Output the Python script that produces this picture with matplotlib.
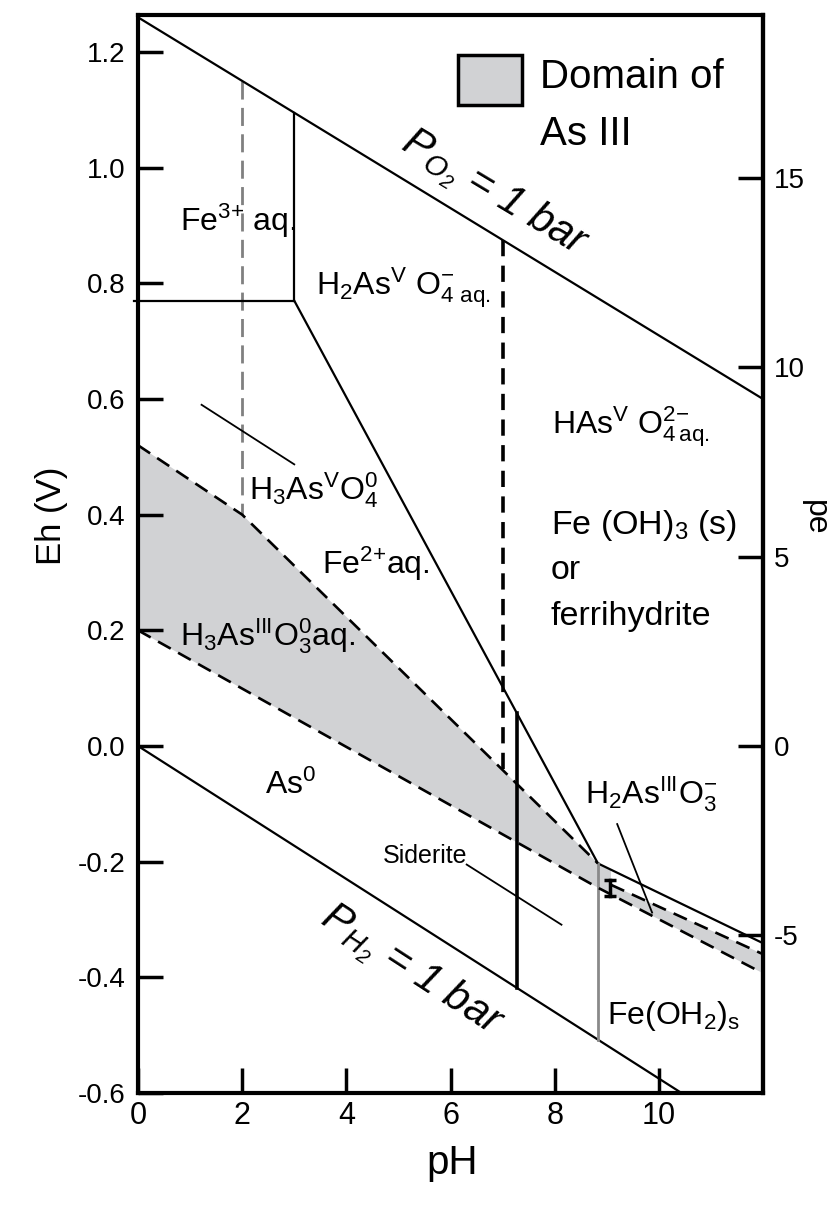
import numpy as np
import matplotlib.pyplot as plt
from matplotlib.patches import Rectangle

plt.rcParams['font.family'] = ['Liberation Sans', 'DejaVu Sans']
plt.rcParams['mathtext.default'] = 'regular'
plt.rcParams['axes.unicode_minus'] = False

# water stability limits (pH, Eh in V)
o2_ph = [0, 12]
o2_eh = [1.26, 0.60]
h2_ph = [0, 12]
h2_eh = [0.0, -0.69]

# iron boundaries
fe3_eh = 0.77            # Fe3+ / Fe2+
fe3_ph = 3.0             # Fe3+ / Fe(OH)3
fe_ph = [3.0, 8.83, 12]  # Fe2+ / Fe(OH)3, then Fe(OH)3 / Fe(OH)2
fe_eh = [0.77, -0.203, -0.341]
siderite_ph = 7.27
feoh2_ph = 8.83

# arsenic boundaries
as_upper_ph = [0, 2, 8.83]
as_upper_eh = [0.52, 0.40, -0.203]
as_right_ph = [9.08, 12]
as_right_eh = [-0.24, -0.36]
as_lower_ph = [0, 8.83, 12]
as_lower_eh = [0.20, -0.245, -0.393]
as_v_ph = 2.0
as_v2_ph = 7.0

# leader lines
leader_ph = [[1.22, 3.0], [6.31, 8.13], [9.2, 9.87]]
leader_eh = [[0.59, 0.487], [-0.205, -0.309], [-0.135, -0.288]]

labels = [
    (r"Fe$^{3{+}}$ aq.", 0.80, 0.89, 23),
    (r"H$_2$As$^V$ O$_{4\ aq.}^{-}$", 3.42, 0.78, 23),
    (r"HAs$^V$ O$_{4\,aq.}^{2{-}}$", 7.94, 0.541, 23),
    (r"H$_3$As$^V$O$_4^0$", 2.14, 0.426, 23),
    (r"Fe$^{2{+}}$aq.", 3.54, 0.297, 23),
    (r"H$_3$As$^{III}$O$_3^0$aq.", 0.80, 0.174, 23),
    (r"As$^0$", 2.43, -0.083, 23),
    (r"H$_2$As$^{III}$O$_3^{-}$", 8.58, -0.10, 23),
    (r"Fe(OH$_2)_s$", 9.0, -0.481, 23),
]

def line_at(ph, xs, ys):
    return float(np.interp(ph, xs, ys))

fig = plt.figure(figsize=(8.35, 12.1), dpi=100)
ax = fig.add_axes([0.1653, 0.0967, 0.7485, 0.8909])
ax.set_xlim(0, 12)
ax.set_ylim(-0.6, 1.264)

# As III domain
fe_at = line_at(as_right_ph[0], fe_ph, fe_eh)
poly_x = as_upper_ph + [as_right_ph[0]] + as_right_ph + as_lower_ph[::-1]
poly_y = as_upper_eh + [fe_at] + as_right_eh + as_lower_eh[::-1]
ax.fill(poly_x, poly_y, color='#d1d2d4', lw=0, zorder=1)

k = dict(color='black', lw=1.6, zorder=3)
ax.plot(o2_ph, o2_eh, **k)
ax.plot(h2_ph, h2_eh, **k)
ax.plot([-0.08, fe3_ph], [fe3_eh, fe3_eh], clip_on=False, **k)
ax.plot([fe3_ph, fe3_ph], [fe3_eh, line_at(fe3_ph, o2_ph, o2_eh)], **k)
ax.plot(fe_ph, fe_eh, **k)
ax.plot([siderite_ph, siderite_ph],
        [line_at(siderite_ph, fe_ph, fe_eh), line_at(siderite_ph, h2_ph, h2_eh)],
        color='black', lw=2.6, zorder=3)
ax.plot([feoh2_ph, feoh2_ph],
        [line_at(feoh2_ph, fe_ph, fe_eh), line_at(feoh2_ph, h2_ph, h2_eh)],
        color='#8a8a8a', lw=2.0, zorder=3)

d = dict(color='black', lw=1.9, dashes=(5.5, 3.2), zorder=3)
ax.plot(as_upper_ph, as_upper_eh, **d)
ax.plot(as_right_ph, as_right_eh, **d)
ax.plot(as_lower_ph, as_lower_eh, **d)
ax.plot([as_v_ph, as_v_ph], [line_at(as_v_ph, o2_ph, o2_eh), line_at(as_v_ph, as_upper_ph, as_upper_eh)],
        color='#808080', lw=2.0, dashes=(6.5, 3), zorder=2)
ax.plot([as_v2_ph, as_v2_ph], [line_at(as_v2_ph, o2_ph, o2_eh), line_at(as_v2_ph, as_upper_ph, as_upper_eh)],
        color='black', lw=2.6, dashes=(4.5, 2.6), zorder=2)

for xs, ys in zip(leader_ph, leader_eh):
    ax.plot(xs, ys, color='black', lw=1.3, zorder=3)
ax.plot([9.06, 9.06], [-0.231, -0.26], color='black', lw=2.5, marker='_', ms=8, mew=2.5, zorder=3)

for txt, x, y, s in labels:
    ax.text(x, y, txt, fontsize=s, ha='left', va='baseline', zorder=4)
ax.text(7.92, 0.366, "Fe (OH)$_3$ (s)", fontsize=24.5, va='baseline')
ax.text(7.92, 0.288, "or", fontsize=24.5, va='baseline')
ax.text(7.92, 0.21, "ferrihydrite", fontsize=24.5, va='baseline')
ax.text(6.33, -0.203, "Siderite", fontsize=18, ha='right', va='baseline')

ax.text(6.83, 0.955, r"P$_{O_2}$ = 1 bar", fontsize=30, style='italic',
        rotation=-31, rotation_mode='anchor', ha='center', va='center')
ax.text(5.24, -0.39, r"P$_{H_2}$ = 1 bar", fontsize=30, style='italic',
        rotation=-33, rotation_mode='anchor', ha='center', va='center')

# legend
ax.add_patch(Rectangle((0.512, 0.9165), 0.1024, 0.0464, transform=ax.transAxes,
                       facecolor='#d1d2d4', edgecolor='black', lw=2.5, zorder=5))
ax.text(0.643, 0.9325, "Domain of", transform=ax.transAxes, fontsize=29, va='baseline')
ax.text(0.643, 0.8795, "As III", transform=ax.transAxes, fontsize=29, va='baseline')

ax.set_xticks([0, 2, 4, 6, 8, 10])
ax.set_yticks(np.round(np.arange(-0.6, 1.21, 0.2), 1))
ax.set_yticklabels([f"{v:.1f}" for v in np.arange(-0.6, 1.21, 0.2)])
ax.tick_params(direction='in', length=18, width=2.5, labelsize=20)
ax.tick_params(axis='x', pad=6, labelsize=22)
ax.tick_params(axis='y', pad=9)
for sp in ax.spines.values():
    sp.set_linewidth(3)

pe_per_volt = 1 / 0.0655
sec = ax.secondary_yaxis('right', functions=(lambda e: e * pe_per_volt, lambda p: p / pe_per_volt))
sec.set_yticks([-5, 0, 5, 10, 15])
sec.tick_params(direction='in', length=18, width=2.5, labelsize=20, pad=8)
sec.spines['right'].set_linewidth(3)
ax.text(1.083, 0.534, 'pe', transform=ax.transAxes, fontsize=23, rotation=270,
        ha='center', va='center')

ax.set_xlabel('pH', fontsize=29)
ax.xaxis.set_label_coords(0.503, -0.047)
ax.set_ylabel('Eh (V)', fontsize=25)
ax.yaxis.set_label_coords(-0.112, 0.535)

fig.savefig('out.png', dpi=100)
